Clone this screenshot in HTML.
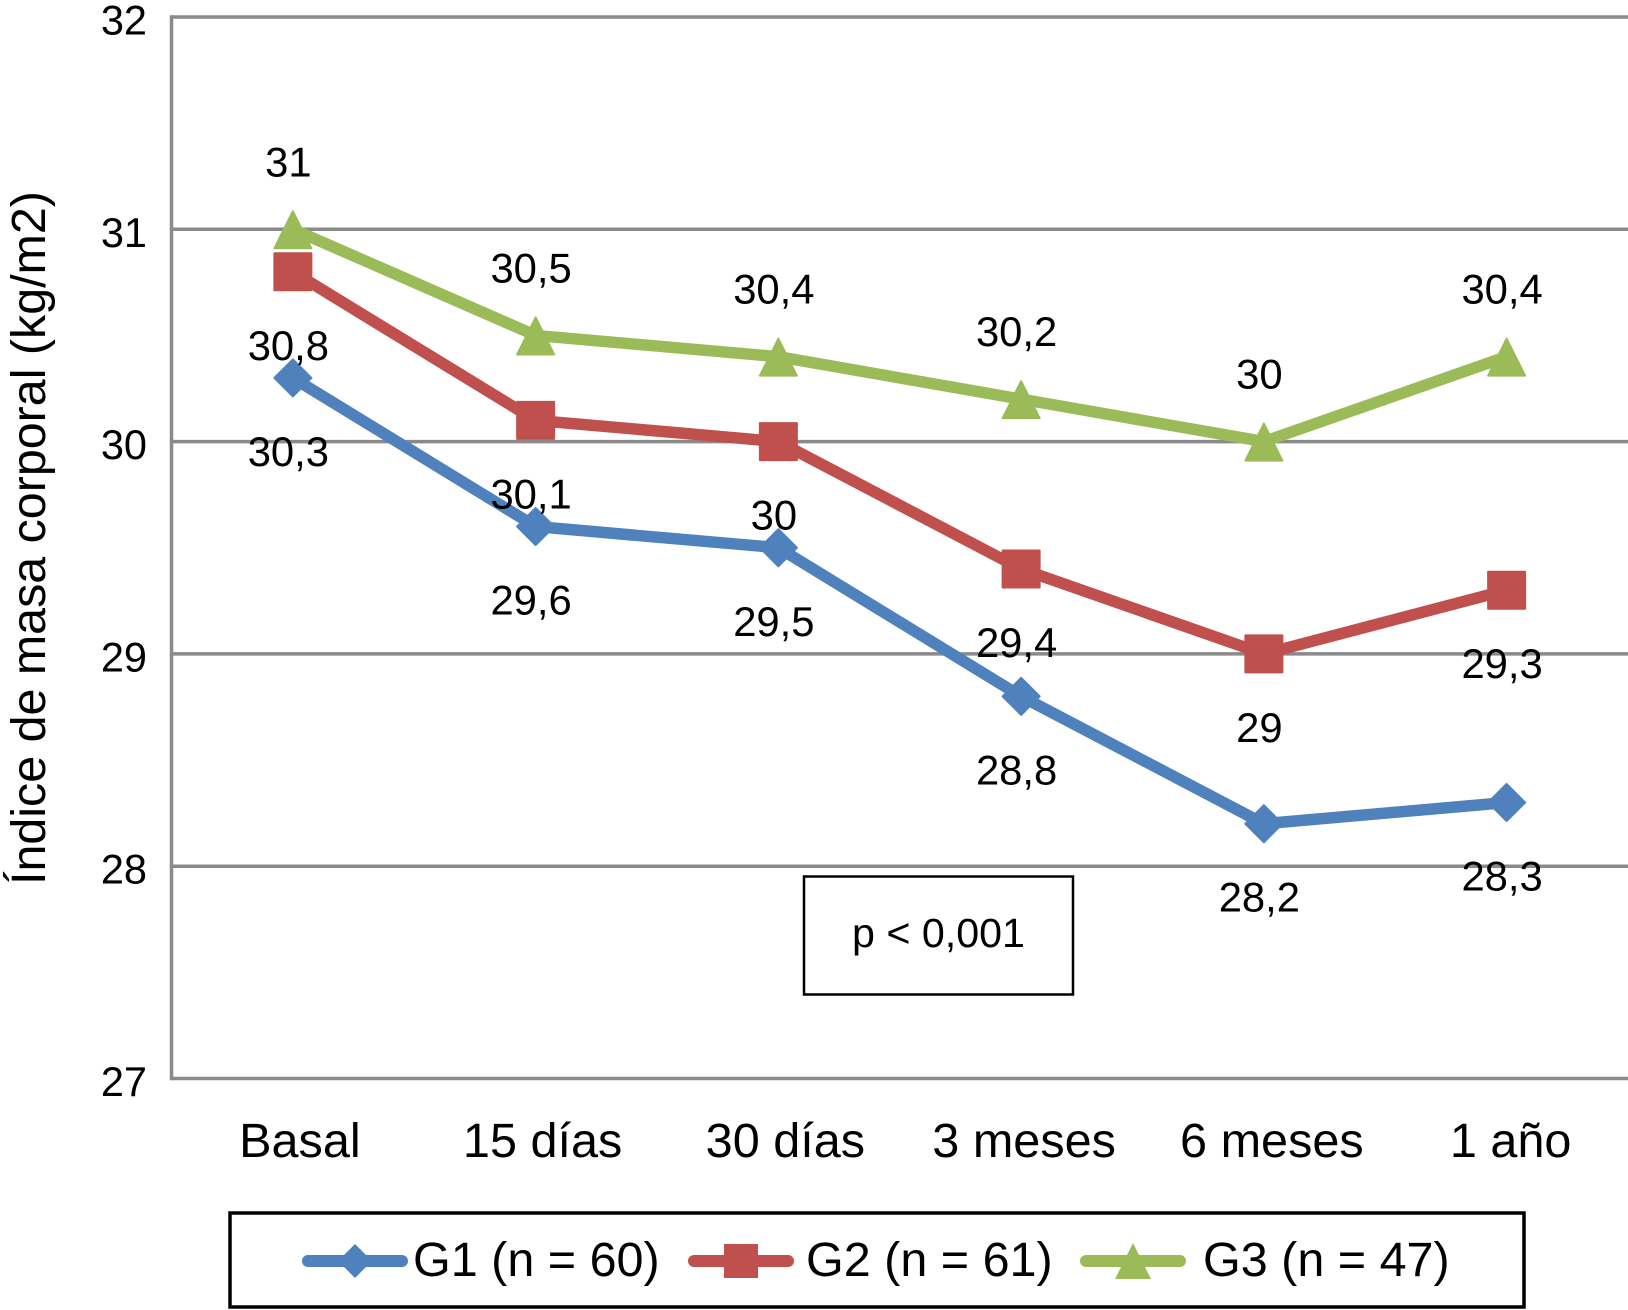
<!DOCTYPE html>
<html lang="es">
<head>
<meta charset="utf-8">
<title>Índice de masa corporal</title>
<style>
html,body{margin:0;padding:0;background:#fff;width:1628px;height:1310px;overflow:hidden}
svg{display:block}
text{font-family:"Liberation Sans",Arial,sans-serif;fill:#000}
</style>
</head>
<body>
<svg id="chart" xmlns="http://www.w3.org/2000/svg" width="1628" height="1310" viewBox="0 0 1628 1310">
  <rect x="0" y="0" width="1628" height="1310" fill="#fff"/>
  <g id="grid"></g>
  <g id="yticks"></g>
  <g id="xticks"></g>
  <text transform="translate(45 885) rotate(-90)" font-size="48.4">Índice de masa corporal (kg/m2)</text>
  <g id="series"></g>
  <g id="labels"></g>

  <g>
    <rect x="804" y="876.5" width="269" height="118" fill="#fff" stroke="#000" stroke-width="2.5"/>
    <text x="852" y="947" font-size="41.2">p &lt; 0,001</text>
  </g>

  <g>
    <rect x="230" y="1213" width="1294" height="94" fill="#fff" stroke="#000" stroke-width="3.5"/>
    <g>
      <line x1="308" y1="1261" x2="402" y2="1261" stroke="#4f81bd" stroke-width="12" stroke-linecap="round"/>
      <polygon points="355,1244 372,1261 355,1278 338,1261" fill="#4f81bd"/>
      <text x="413" y="1276" font-size="48.5">G1 (n = 60)</text>
    </g>
    <g>
      <line x1="694" y1="1261" x2="788" y2="1261" stroke="#c0504d" stroke-width="12" stroke-linecap="round"/>
      <rect x="724" y="1244" width="34" height="34" fill="#c0504d"/>
      <text x="806" y="1276" font-size="48.5">G2 (n = 61)</text>
    </g>
    <g>
      <line x1="1086" y1="1261" x2="1180" y2="1261" stroke="#9bbb59" stroke-width="12" stroke-linecap="round"/>
      <polygon points="1133,1243 1151,1279 1115,1279" fill="#9bbb59"/>
      <text x="1203" y="1276" font-size="48.5">G3 (n = 47)</text>
    </g>
  </g>
</svg>
<script>
const categories = ["Basal", "15 días", "30 días", "3 meses", "6 meses", "1 año"];
const yTicks = [32, 31, 30, 29, 28, 27];
const g1Values = [30.3, 29.6, 29.5, 28.8, 28.2, 28.3];
const g2Values = [30.8, 30.1, 30, 29.4, 29, 29.3];
const g3Values = [31, 30.5, 30.4, 30.2, 30, 30.4];

const NS = "http://www.w3.org/2000/svg";
const plotLeft = 171.5, plotRight = 1628, plotTop = 17, plotBottom = 1078.5;
const yMin = 27, yMax = 32;
const bandWidth = (plotRight - plotLeft) / categories.length;
const xScale = function (i) { return plotLeft + bandWidth * (i + 0.5); };
const yScale = function (v) { return plotBottom - (v - yMin) / (yMax - yMin) * (plotBottom - plotTop); };

function make(tag, parent) {
  const el = document.createElementNS(NS, tag);
  parent.appendChild(el);
  return el;
}
function fmt(v) { return String(v).replace(".", ","); }

const grid = document.getElementById("grid");
const yticksG = document.getElementById("yticks");
const xticksG = document.getElementById("xticks");
const seriesG = document.getElementById("series");
const labelsG = document.getElementById("labels");

yTicks.forEach(function (t) {
  const ln = make("line", grid);
  
  
  ln.setAttribute("x1", plotLeft);
  ln.setAttribute("x2", plotRight);
  ln.setAttribute("y1", yScale(t));
  ln.setAttribute("y2", yScale(t));
  ln.setAttribute("stroke", "#8a8a8a");
  ln.setAttribute("stroke-width", "3.5");

  const tx = make("text", yticksG);
  
  
  tx.setAttribute("x", 147);
  tx.setAttribute("y", yScale(t) + 17.5);
  tx.setAttribute("text-anchor", "end");
  tx.setAttribute("font-size", "41.5");
  tx.textContent = t;
});

const axisLine = make("line", grid);


axisLine.setAttribute("x1", plotLeft);
axisLine.setAttribute("x2", plotLeft);
axisLine.setAttribute("y1", plotTop - 1.75);
axisLine.setAttribute("y2", plotBottom + 1.75);
axisLine.setAttribute("stroke", "#8a8a8a");
axisLine.setAttribute("stroke-width", "3.5");

categories.forEach(function (c, i) {
  const nudge = c === "3 meses" ? -4 : (c === "1 año" ? -3 : (c === "6 meses" ? 1 : 0));
  const tx = make("text", xticksG);
  
  
  tx.setAttribute("x", xScale(i) + 7 + nudge);
  tx.setAttribute("y", 1157);
  tx.setAttribute("text-anchor", "middle");
  tx.setAttribute("font-size", "48.6");
  tx.textContent = c;
});

function drawSeries(values, key, color, shape, labelDy) {
  const g = make("g", seriesG);
  
  

  const line = make("polyline", g);
  
  
  line.setAttribute("points", values.map(function (v, i) { return xScale(i) + "," + yScale(v); }).join(" "));
  line.setAttribute("fill", "none");
  line.setAttribute("stroke", color);
  line.setAttribute("stroke-width", "11.5");
  line.setAttribute("stroke-linejoin", "round");

  values.forEach(function (v, i) {
    const x = xScale(i), y = yScale(v), r = 18.5;
    let m;
    if (shape === "square") {
      m = make("rect", g);
      m.setAttribute("x", x - r);
      m.setAttribute("y", y - r);
      m.setAttribute("width", 2 * r);
      m.setAttribute("height", 2 * r);
    } else if (shape === "diamond") {
      m = make("polygon", g);
      m.setAttribute("points", [x, y - r, x + r, y, x, y + r, x - r, y].join(" "));
    } else {
      m = make("polygon", g);
      m.setAttribute("points", [x, y - 18, x + r, y + 19, x - r, y + 19].join(" "));
    }
    
    
    m.setAttribute("fill", color);
    m.setAttribute("stroke", color);
    m.setAttribute("stroke-width", "2");
    m.setAttribute("stroke-linejoin", "round");

    const lb = make("text", labelsG);
    
    
    lb.setAttribute("x", x - 4.5);
    lb.setAttribute("y", y + labelDy);
    lb.setAttribute("text-anchor", "middle");
    lb.setAttribute("font-size", "41.8");
    lb.textContent = fmt(v);
  });
}

drawSeries(g1Values, "g1", "#4f81bd", "diamond", 88);
drawSeries(g2Values, "g2", "#c0504d", "square", 88);
drawSeries(g3Values, "g3", "#9bbb59", "triangle", -53);
</script>
</body>
</html>
